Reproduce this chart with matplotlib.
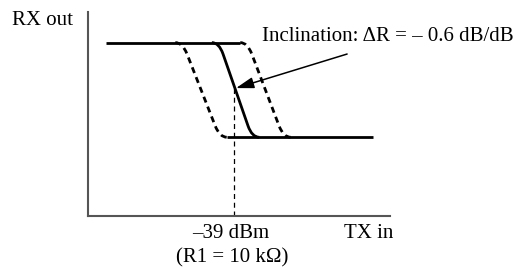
"""
Schematic RX out vs TX in transfer curve (squelch-like step with
+/- shifted dashed variants) and the -39 dBm reference point.
"""

import matplotlib
matplotlib.use("Agg")
import matplotlib.pyplot as plt
from matplotlib.path import Path
from matplotlib.patches import PathPatch

# ── data (abstract axis units, 0..100 on both axes) ─────────────────
top_level = 85.0          # RX out before the step
bottom_level = 38.6       # RX out after the step
line_start = 6.0          # first TX in value of the upper plateau
line_end = 94.3           # last TX in value of the lower plateau

curve_names = ["left", "nominal", "right"]
step_top_x = [31.3, 43.4, 52.8]      # where each curve leaves the plateau
step_bottom_x = [43.6, 54.3, 64.7]   # where each curve reaches the floor
curve_dashed = [True, False, True]

ref_x = 48.4              # -39 dBm marker
arrow_tip = (49.0, 62.7)
arrow_tail = (85.8, 79.4)

tick_label = "\u201339 dBm"
tick_note = "(R1 = 10 k\u03a9)"
x_label = "TX in"
y_label = "RX out"
note = "Inclination: \u0394R = \u2013 0.6 dB/dB"

plt.rcParams["font.family"] = ["Liberation Serif", "DejaVu Serif"]

fig = plt.figure(figsize=(5.32, 2.70), dpi=100)
ax = fig.add_axes([88 / 532, 54 / 270, 302 / 532, 204 / 270])
ax.set_xlim(0, 100)
ax.set_ylim(0, 100)
ax.set_xticks([])
ax.set_yticks([])
for side in ("top", "right"):
    ax.spines[side].set_visible(False)
for side in ("left", "bottom"):
    ax.spines[side].set_color("#555555")
    ax.spines[side].set_linewidth(1.5)

LW = 2.0
RX = 2.4       # horizontal size of the rounded corners
FRAC = 0.12    # fraction of the slope used by each rounded corner


def step_path(x_top, x_bot):
    dx = x_bot - x_top
    dy = bottom_level - top_level
    verts = [
        (x_top - RX, top_level),
        (x_top, top_level),
        (x_top + FRAC * dx, top_level + FRAC * dy),
        (x_bot - FRAC * dx, bottom_level - FRAC * dy),
        (x_bot, bottom_level),
        (x_bot + RX, bottom_level),
    ]
    codes = [Path.MOVETO, Path.CURVE3, Path.CURVE3,
             Path.LINETO, Path.CURVE3, Path.CURVE3]
    return Path(verts, codes)


# plateaus
ax.plot([line_start, step_top_x[-1] - RX], [top_level, top_level],
        color="black", lw=LW, solid_capstyle="butt")
ax.plot([step_bottom_x[0] + RX, line_end], [bottom_level, bottom_level],
        color="black", lw=LW, solid_capstyle="butt")

# transitions
for name, xt, xb, dashed in zip(curve_names, step_top_x, step_bottom_x, curve_dashed):
    patch = PathPatch(step_path(xt, xb), facecolor="none", edgecolor="black",
                      lw=LW, capstyle="butt", joinstyle="round")
    if dashed:
        patch.set_linestyle((0, (2.2, 1.6)))
    ax.add_patch(patch)

# reference line at -39 dBm, from the nominal curve down to the axis
slope = (bottom_level - top_level) / (step_bottom_x[1] - step_top_x[1])
ref_y = top_level + slope * (ref_x - step_top_x[1])
ax.plot([ref_x, ref_x], [0, ref_y], color="black", lw=0.9,
        linestyle=(0, (4, 3)))

ax.annotate("", xy=arrow_tip, xytext=arrow_tail,
            arrowprops=dict(arrowstyle="-|>,head_length=0.9,head_width=0.28",
                            mutation_scale=12, color="black", lw=1.1,
                            shrinkA=0, shrinkB=0))

FS = 15
ax.text(57.6, 85.8, note, fontsize=FS, ha="left", va="baseline")
ax.text(-25.3, 93.6, y_label, fontsize=FS, ha="left", va="baseline", clip_on=False)
ax.text(ref_x - 1.0, -10.8, tick_label, fontsize=FS, ha="center", va="baseline", clip_on=False)
ax.text(ref_x - 0.6, -23.0, tick_note, fontsize=FS, ha="center", va="baseline", clip_on=False)
ax.text(84.8, -10.8, x_label, fontsize=FS, ha="left", va="baseline", clip_on=False)

fig.savefig("out.png", dpi=100)
